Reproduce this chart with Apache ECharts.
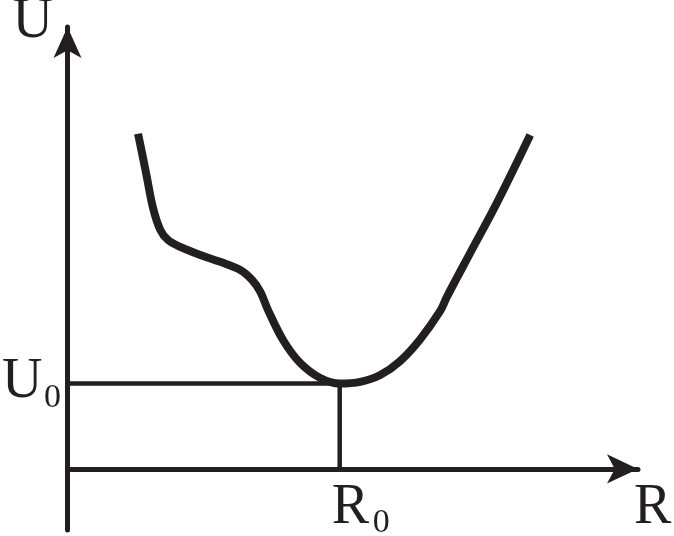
<!DOCTYPE html>
<html>
<head>
<meta charset="utf-8">
<script src="https://cdn.jsdelivr.net/npm/echarts@6/dist/echarts.min.js"></script>
<style>
html,body{margin:0;padding:0;background:#fff;}
#c{width:674px;height:536px;}
</style>
</head>
<body>
<div id="c"></div>
<script>
// Potential energy curve U(R) (abstract units)
const curveR = [1.27, 1.41, 1.54, 1.67, 1.81, 2.03, 2.39, 2.75, 3.11, 3.32, 3.47, 3.61, 3.88, 4.19, 4.55, 4.90, 5.27, 5.63, 5.99, 6.35, 6.71, 6.83, 7.25, 7.73, 8.33];
const curveU = [7.85, 6.96, 6.11, 5.60, 5.36, 5.20, 5.01, 4.85, 4.66, 4.43, 4.15, 3.72, 3.02, 2.48, 2.13, 2.00, 2.04, 2.20, 2.53, 3.04, 3.70, 4.03, 5.06, 6.23, 7.82];
// Equilibrium point
const R0 = 4.9;
const U0 = 2.0;
// Labels
const axisNameU = 'U';
const axisNameR = 'R';
const labelU0 = ['U', '0'];
const labelR0 = ['R', '0'];

const ink = '#231f20';
const fam = 'Liberation Serif';

const chart = echarts.init(document.getElementById('c'), null, {renderer: 'canvas'});

const curveData = curveR.map((r, i) => [r, curveU[i]]);
const guideData = [[0, U0], [R0, U0], [R0, 0]];

chart.setOption({
  animation: false,
  backgroundColor: '#ffffff',
  grid: {left: 67.5, right: 36, top: 27, bottom: 6},
  xAxis: {
    type: 'value', min: 0, max: 10.27,
    axisLine: {show: true, onZero: true, symbol: ['none', 'arrow'], symbolSize: [22, 31],
      lineStyle: {color: ink, width: 5}},
    axisTick: {show: false}, axisLabel: {show: false}, splitLine: {show: false}
  },
  yAxis: {
    type: 'value', min: -1.43, max: 10.35,
    axisLine: {show: true, onZero: true, symbol: ['none', 'arrow'], symbolSize: [21, 31],
      lineStyle: {color: ink, width: 5}},
    axisTick: {show: false}, axisLabel: {show: false}, splitLine: {show: false}
  },
  series: [
    {
      type: 'line', data: guideData, symbol: 'none', smooth: false,
      lineStyle: {color: ink, width: 4.5}, z: 2
    },
    {
      type: 'line', data: curveData, symbol: 'none', smooth: 0.35,
      lineStyle: {color: ink, width: 8, cap: 'butt'}, z: 3
    }
  ]
});

const pU0 = chart.convertToPixel({gridIndex: 0}, [0, U0]);
const pR0 = chart.convertToPixel({gridIndex: 0}, [R0, 0]);
const pO = chart.convertToPixel({gridIndex: 0}, [0, 0]);

function txt(s, x, y, size) {
  return {type: 'text', x: x, y: y, z: 10,
    style: {text: s, fill: ink, fontFamily: fam, fontSize: size, fontWeight: 'normal',
      align: 'left', verticalAlign: 'middle'}};
}

chart.setOption({
  graphic: [
    txt(axisNameU, pO[0] - 55, 22, 56),
    txt(axisNameR, 634, pO[1] + 39, 56),
    txt(labelU0[0], pU0[0] - 65.5, pU0[1] - 1, 56),
    txt(labelU0[1], pU0[0] - 23.5, pU0[1] + 15, 34),
    txt(labelR0[0], pR0[0] - 8, pR0[1] + 39, 56),
    txt(labelR0[1], pR0[0] + 33, pR0[1] + 54, 34)
  ]
});
</script>
</body>
</html>
